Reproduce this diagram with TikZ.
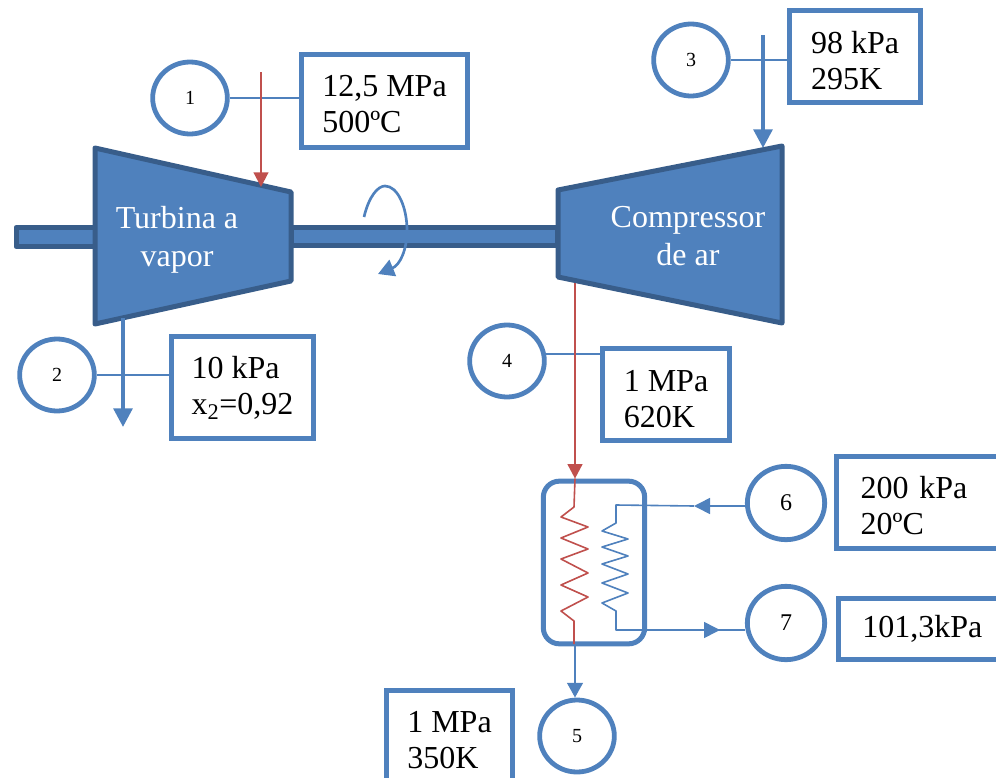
\documentclass[tikz,border=0pt]{standalone}
\usepackage{fontspec}
\setmainfont{Liberation Serif}
\usepackage{tikz}
\usetikzlibrary{
        arrows.meta,
        positioning,
        shapes,
        shapes.geometric
    }
\definecolor{bodyblue}{HTML}{4F81BD}
\definecolor{edgeblue}{HTML}{385D8A}
\definecolor{flowred}{HTML}{C0504D}
\tikzset{
    bigtext/.style={font=\fontsize{24}{27}\selectfont},
    machine/.style={fill=bodyblue,draw=edgeblue,line width=3.75pt,line join=round},
    machinetext/.style={text=white,align=center,font=\fontsize{24}{28.5}\selectfont},
    station/.style={ellipse,draw=bodyblue,line width=3.6pt,fill=white,inner sep=0pt,minimum width=56pt,minimum height=54pt,font=\fontsize{15}{17}\selectfont},
    bigstation/.style={station,minimum width=58pt,minimum height=55pt,font=\fontsize{18}{20}\selectfont},
    infobox/.style={draw=bodyblue,line width=3.75pt,fill=white,align=left,inner sep=0pt,minimum height=69.5pt,bigtext},
    thinline/.style={draw=bodyblue,line width=1.2pt},
    coilblue/.style={draw=bodyblue,line width=1.2pt,line join=round},
    coilred/.style={draw=flowred,line width=1.2pt,line join=round},
    flowblue/.style={draw=bodyblue,line width=3pt,-{Triangle[length=14pt,width=14pt]}},
    flowredarrow/.style={draw=flowred,line width=1.6pt,-{Triangle[length=11pt,width=11pt]}},
    tipblue/.style={thinline,-{Triangle[length=12pt,width=12pt]}}
}

\begin{document}
\begin{tikzpicture}[x=0.75pt,y=-0.75pt]
    \useasboundingbox (0,0) rectangle (996,778);
    % shafts
    \draw[machine] (16,227.5) rectangle (95,246.5);
    \draw[machine] (291,227.5) rectangle (557,245);
    % turbine and compressor
    \draw[machine] (95,148) -- (291,192) -- (291,281) -- (95,324) -- cycle;
    \draw[machine] (558,190) -- (782,146) -- (782,323) -- (558,277) -- cycle;
    \node[machinetext] (turbina) at (177,240) {Turbina a\\vapor};
    \node[machinetext] (compressor) at (688,236) {Compressor\\de ar};
    % rotation
    \draw[draw=bodyblue,line width=2pt,-{Triangle[length=12pt,width=13pt]}]
        (364,217) .. controls (369,196) and (378,186) .. (385,186)
        .. controls (398,186) and (407,208) .. (407,230)
        .. controls (407,250) and (400,265) .. (378,274);
    % stations
    \node[station] (c1) at (190,98) {1};
    \node[station] (c2) at (57,375) {2};
    \node[station] (c3) at (691,60) {3};
    \node[station] (c4) at (507,361) {4};
    \node[station] (c5) at (577,736) {5};
    \node[bigstation] (c6) at (786,503) {6};
    \node[bigstation] (c7) at (786,623) {7};
    % boxes
    \node[infobox,minimum width=125pt,text height=47pt] (box1) at (384.5,101) {12,5 MPa\\500ºC};
    \node[infobox,minimum width=107pt,minimum height=76.5pt] (box2) at (242.5,387.5) {10 kPa\\x\textsubscript{2}=0,92};
    \node[infobox,minimum width=98.5pt,text height=49.5pt] (box3) at (855,56.5) {98 kPa\\295K};
    \node[infobox,minimum width=95.5pt,text height=49.5pt] (box4) at (666,394.5) {1 MPa\\620K};
    \node[infobox,minimum width=95pt,minimum height=75pt] (box5) at (449.5,740) {1 MPa\\350K};
    \node[infobox,text width=98pt,inner xsep=18pt,text depth=23pt] (box6) at (926,502.5) {200 kPa\\20ºC};
    \node[infobox,text width=94pt,inner xsep=18pt,minimum height=46pt] (box7) at (925,629) {101,3kPa};
    % heat exchanger
    \node[draw=bodyblue,line width=3.75pt,rounded corners=12pt,fill=white,minimum width=76pt,minimum height=122pt,inner sep=0pt] (hx) at (594,562.5) {};
    \coordinate (turbIn) at (261,72);
    \coordinate (turbOut) at (123,318);
    \coordinate (compIn) at (763,35);
    \coordinate (compOut) at (575,283);
    \coordinate (tip6) at (694,506);
    \coordinate (tip7) at (720,630);
    % station links
    \draw[thinline] (c1.east) -- (c1.east -| box1.west);
    \draw[thinline] (c2.east) -- (c2.east -| box2.west);
    \draw[thinline] (c3.east) -- (c3.east -| box3.west);
    \draw[thinline] (c4.10) -- (c4.10 -| box4.west);
    % flows
    \draw[flowredarrow] (turbIn) -- (261,187);
    \draw[flowblue] (turbOut) -- (123,427);
    \draw[flowblue] (compIn) -- (763,148);
    \draw[flowredarrow,line width=2pt] (compOut) -- (compOut |- hx.north);
    \draw[flowblue,line width=2.2pt,-{Triangle[length=11pt,width=11.5pt]}] (compOut |- hx.south) -- (c5.north -| compOut);
    % coils
    \draw[coilred] (compOut |- hx.north) -- (574,507) -- (561,517) -- (588,527) -- (561,538) -- (588,549)
        -- (561,559) -- (588,573) -- (561,585) -- (588,597) -- (561,611) -- (574,621) -- (574,644);
    \draw[tipblue] (c6.west |- tip6) -- (tip6);
    \draw[coilblue] (tip6) -- (616,505) -- (616,523) -- (602,531) -- (628,539) -- (602,547) -- (628,556)
        -- (602,564) -- (628,574) -- (602,583) -- (628,593) -- (602,603) -- (616,611) -- (616,630) -- (tip7);
    \draw[tipblue] (616,630) -- (tip7);
    \draw[thinline] (tip7) -- (tip7 -| c7.west);
\end{tikzpicture}
\end{document}
